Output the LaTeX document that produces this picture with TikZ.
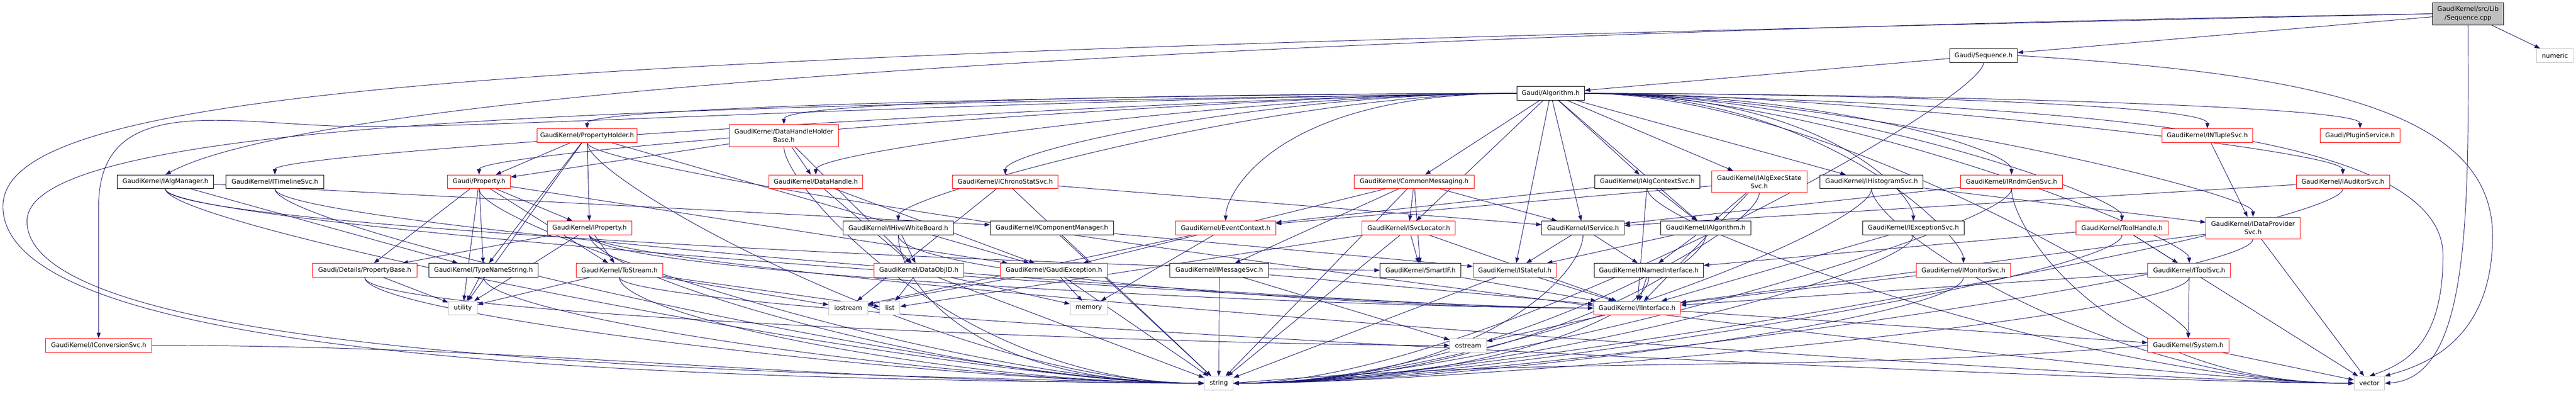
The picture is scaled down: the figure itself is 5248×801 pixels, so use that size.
\documentclass[tikz,border=0pt]{standalone}
\usepackage{fontspec}
\setmainfont{DejaVu Sans}
\usetikzlibrary{arrows.meta,backgrounds}
\definecolor{incblue}{HTML}{191970}
\definecolor{truncred}{HTML}{FF0000}
\definecolor{extgray}{HTML}{BFBFBF}

\begin{document}
\begin{tikzpicture}[x=1pt,y=1pt,
    hdr/.style={draw=black, fill=white, line width=1pt, inner sep=0pt,
      minimum height=28pt, align=center, font=\fontsize{12.9}{17}\selectfont},
    trunc/.style={hdr, draw=truncred},
    ext/.style={hdr, draw=extgray},
    src/.style={hdr, fill=extgray},
    inc/.style={draw=incblue, line width=1pt, -{Triangle[length=11pt,width=8pt]}}]
        \useasboundingbox (0,0) rectangle (5248,-801);

        % source file
        \node[src, minimum width=145pt, minimum height=45pt] (seqcpp) at (5028,-28) {GaudiKernel/src/Lib\\/Sequence.cpp};
        \node[hdr, minimum width=138pt] (seqh) at (4041,-113) {Gaudi/Sequence.h};
        \node[ext, minimum width=74pt] (numeric) at (5205,-113) {numeric};
        \node[hdr, minimum width=138pt] (alg) at (3159,-190) {Gaudi/Algorithm.h};

        % first row of headers
        \node[trunc, minimum width=203pt] (propholder) at (1196,-276) {GaudiKernel/PropertyHolder.h};
        \node[trunc, minimum width=223pt, minimum height=45pt] (dhhb) at (1597,-276) {GaudiKernel/DataHandleHolder\\Base.h};
        \node[trunc, minimum width=185pt] (ntuple) at (4497,-276) {GaudiKernel/INTupleSvc.h};
        \node[trunc, minimum width=162pt] (plugin) at (4808,-276) {Gaudi/PluginService.h};

        % second row
        \node[hdr, minimum width=196pt] (algmgr) at (337,-370) {GaudiKernel/IAlgManager.h};
        \node[hdr, minimum width=199pt] (timeline) at (560,-370) {GaudiKernel/ITimelineSvc.h};
        \node[trunc, minimum width=128pt] (prop) at (976,-370) {Gaudi/Property.h};
        \node[trunc, minimum width=192pt] (dhandle) at (1662,-370) {GaudiKernel/DataHandle.h};
        \node[trunc, minimum width=215pt] (chrono) at (2048,-370) {GaudiKernel/IChronoStatSvc.h};
        \node[trunc, minimum width=244pt] (commsg) at (2881,-370) {GaudiKernel/CommonMessaging.h};
        \node[hdr, minimum width=214pt] (algctx) at (3356,-370) {GaudiKernel/IAlgContextSvc.h};
        \node[trunc, minimum width=194pt, minimum height=44pt] (execst) at (3584,-370) {GaudiKernel/IAlgExecState\\Svc.h};
        \node[hdr, minimum width=210pt] (histo) at (3813,-370) {GaudiKernel/IHistogramSvc.h};
        \node[trunc, minimum width=208pt] (rndm) at (4098,-370) {GaudiKernel/IRndmGenSvc.h};
        \node[trunc, minimum width=190pt] (auditor) at (4773,-370) {GaudiKernel/IAuditorSvc.h};

        % third row
        \node[trunc, minimum width=172pt] (iprop) at (1201,-464) {GaudiKernel/IProperty.h};
        \node[hdr, minimum width=225pt] (hive) at (1830,-464) {GaudiKernel/IHiveWhiteBoard.h};
        \node[hdr, minimum width=251pt] (compmgr) at (2143,-464) {GaudiKernel/IComponentManager.h};
        \node[trunc, minimum width=204pt] (evctx) at (2497,-464) {GaudiKernel/EventContext.h};
        \node[trunc, minimum width=190pt] (svcloc) at (2870,-464) {GaudiKernel/ISvcLocator.h};
        \node[hdr, minimum width=168pt] (iservice) at (3225,-464) {GaudiKernel/IService.h};
        \node[hdr, minimum width=183pt] (ialg) at (3475,-464) {GaudiKernel/IAlgorithm.h};
        \node[hdr, minimum width=207pt] (excsvc) at (3898,-464) {GaudiKernel/IExceptionSvc.h};
        \node[trunc, minimum width=188pt] (toolh) at (4323,-464) {GaudiKernel/ToolHandle.h};
        \node[trunc, minimum width=192pt, minimum height=44pt] (dps) at (4590,-464) {GaudiKernel/IDataProvider\\Svc.h};

        % fourth row
        \node[trunc, minimum width=213pt] (propbase) at (743,-550) {Gaudi/Details/PropertyBase.h};
        \node[hdr, minimum width=223pt] (tns) at (985,-550) {GaudiKernel/TypeNameString.h};
        \node[trunc, minimum width=177pt] (tostream) at (1262,-550) {GaudiKernel/ToStream.h};
        \node[trunc, minimum width=182pt] (dataobjid) at (1872,-550) {GaudiKernel/DataObjID.h};
        \node[trunc, minimum width=218pt] (gexc) at (2147,-550) {GaudiKernel/GaudiException.h};
        \node[hdr, minimum width=202pt] (msgsvc) at (2484,-550) {GaudiKernel/IMessageSvc.h};
        \node[hdr, minimum width=165pt] (smartif) at (2894,-550) {GaudiKernel/SmartIF.h};
        \node[trunc, minimum width=170pt] (istateful) at (3086,-550) {GaudiKernel/IStateful.h};
        \node[hdr, minimum width=223pt] (inamed) at (3359,-550) {GaudiKernel/INamedInterface.h};
        \node[trunc, minimum width=193pt] (monitor) at (4000,-550) {GaudiKernel/IMonitorSvc.h};
        \node[trunc, minimum width=169pt] (toolsvc) at (4460,-550) {GaudiKernel/IToolSvc.h};

        % fifth row
        \node[ext, minimum width=59pt] (utility) at (943,-627) {utility};
        \node[ext, minimum width=79pt] (iostream) at (1728,-627) {iostream};
        \node[ext, minimum width=41pt] (list) at (1813,-627) {list};
        \node[ext, minimum width=76pt] (memory) at (2218,-627) {memory};
        \node[trunc, minimum width=177pt] (iinterface) at (3335,-627) {GaudiKernel/IInterface.h};

        % sixth row
        \node[trunc, minimum width=216pt] (convsvc) at (201,-703) {GaudiKernel/IConversionSvc.h};
        \node[ext, minimum width=75pt] (ostream) at (2991,-703) {ostream};
        \node[trunc, minimum width=165pt] (system) at (4458,-703) {GaudiKernel/System.h};

        % bottom row
        \node[ext, minimum width=59pt] (string) at (2483,-780) {string};
        \node[ext, minimum width=62pt] (vector) at (4827,-780) {vector};

        \begin{pgfonlayer}{background}
        \fill[white] (0,0) rectangle (5248,-801);

        % Sequence.cpp
        \draw[inc] (seqcpp) -- (seqh);
        \draw[inc] (seqcpp) -- (numeric);
        \draw[inc] (seqcpp.west) .. controls (3000,-60) and (700,-160) .. (algmgr.north);
        \draw[inc] (seqcpp.west) .. controls (1200,-110) and (6,-160) .. (6,-420) .. controls (6,-740) and (1400,-772) .. (string.west);
        \draw[inc] (seqcpp.south) .. controls (5030,-450) and (5030,-770) .. (vector.east);

        % Sequence.h
        \draw[inc] (seqh) -- (alg);
        \draw[inc] (seqh.south) .. controls +(0,-80) and +(500,0) .. (string.east);
        \draw[inc] (seqh.east) .. controls (4700,-150) and (5078,-220) .. (5078,-480) .. controls (5078,-700) and (4930,-745) .. (vector.north east);

        % Algorithm.h
        \draw[inc] (alg.west) .. controls +(-500,0) and +(0,50) .. (propholder.north);
        \draw[inc] (alg.west) .. controls +(-500,0) and +(0,50) .. (dhhb.north);
        \draw[inc] (alg.west) .. controls +(-500,0) and +(0,50) .. (timeline.north);
        \draw[inc] (alg.west) .. controls +(-500,0) and +(0,50) .. (prop.north);
        \draw[inc] (alg.west) .. controls +(-500,0) and +(0,50) .. (dhandle.north);
        \draw[inc] (alg.west) .. controls +(-500,0) and +(0,50) .. (chrono.north);
        \draw[inc] (alg.west) .. controls +(-500,0) and +(0,50) .. (hive.north);
        \draw[inc] (alg.west) .. controls +(-500,0) and +(0,50) .. (evctx.north);
        \draw[inc] (alg) -- (commsg);
        \draw[inc] (alg) -- (svcloc);
        \draw[inc] (alg) -- (iservice);
        \draw[inc] (alg) -- (ialg);
        \draw[inc] (alg) -- (algctx);
        \draw[inc] (alg) -- (execst);
        \draw[inc] (alg) -- (histo);
        \draw[inc] (alg) -- (istateful);
        \draw[inc] (alg.east) .. controls +(500,0) and +(0,50) .. (ntuple.north);
        \draw[inc] (alg.east) .. controls +(500,0) and +(0,50) .. (plugin.north);
        \draw[inc] (alg.east) .. controls +(500,0) and +(0,50) .. (rndm.north);
        \draw[inc] (alg.east) .. controls +(500,0) and +(0,50) .. (auditor.north);
        \draw[inc] (alg.east) .. controls +(500,0) and +(0,50) .. (excsvc.north);
        \draw[inc] (alg.east) .. controls +(500,0) and +(0,50) .. (toolh.north);
        \draw[inc] (alg.east) .. controls +(500,0) and +(0,50) .. (dps.north);
        \draw[inc] (alg.east) .. controls +(500,0) and +(0,50) .. (monitor.north);
        \draw[inc] (alg.east) .. controls +(500,0) and +(0,50) .. (toolsvc.north);
        \draw[inc] (alg.east) .. controls +(500,0) and +(0,50) .. (system.north);
        \draw[inc] (alg.west) .. controls (1900,-205) and (950,-265) .. (700,-257) .. controls (450,-250) and (201,-190) .. (201,-420) -- (convsvc.north);
        \draw[inc] (alg.west) .. controls (1500,-215) and (55,-230) .. (55,-450) .. controls (55,-720) and (1400,-760) .. (string.west);
        \draw[inc] (alg.east) .. controls (4200,-215) and (4977,-260) .. (4977,-520) .. controls (4977,-700) and (4900,-740) .. (vector.north);

        % PropertyHolder.h
        \draw[inc] (propholder) -- (prop);
        \draw[inc] (propholder) -- (iprop);
        \draw[inc] (propholder) -- (gexc);
        \draw[inc] (propholder) -- (utility);
        \draw[inc] (propholder) -- (tns);
        \draw[inc] (propholder.south) .. controls +(0,-80) and +(-500,0) .. (string.west);
        \draw[inc] (propholder.south) .. controls +(0,-80) and +(-500,0) .. (vector.west);

        % Gaudi/Property.h
        \draw[inc] (prop) -- (propbase);
        \draw[inc] (prop) -- (iprop);
        \draw[inc] (prop) -- (tns);
        \draw[inc] (prop) -- (utility);
        \draw[inc] (prop) -- (gexc);
        \draw[inc] (prop) -- (tostream);
        \draw[inc] (prop.south) .. controls +(0,-80) and +(-500,0) .. (string.west);

        % DataHandleHolderBase.h, DataHandle.h
        \draw[inc] (dhhb) -- (prop);
        \draw[inc] (dhhb) -- (dhandle);
        \draw[inc] (dhhb) -- (dataobjid);
        \draw[inc] (dhhb.south) .. controls +(0,-80) and +(-500,0) .. (string.west);
        \draw[inc] (dhandle) -- (dataobjid);
        \draw[inc] (dhandle) -- (gexc);

        % IAlgManager.h, ITimelineSvc.h
        \draw[inc] (algmgr) -- (compmgr);
        \draw[inc] (algmgr) -- (tns);
        \draw[inc] (algmgr.south) .. controls +(0,-80) and +(-500,0) .. (smartif.west);
        \draw[inc] (algmgr.south) .. controls +(0,-80) and +(-500,0) .. (iinterface.west);
        \draw[inc] (algmgr.south) .. controls +(0,-80) and +(-500,0) .. (string.west);
        \draw[inc] (timeline.south) .. controls +(0,-80) and +(-500,0) .. (iinterface.west);
        \draw[inc] (timeline.south) .. controls +(0,-80) and +(-500,0) .. (string.west);

        % IChronoStatSvc.h, CommonMessaging.h
        \draw[inc] (chrono) -- (iservice);
        \draw[inc] (chrono) -- (string);
        \draw[inc] (chrono) -- (iostream);
        \draw[inc] (commsg) -- (svcloc);
        \draw[inc] (commsg) -- (iservice);
        \draw[inc] (commsg) -- (msgsvc);
        \draw[inc] (commsg) -- (smartif);
        \draw[inc] (commsg) -- (gexc);
        \draw[inc] (commsg) -- (string);

        % IAlgContextSvc.h, IAlgExecStateSvc.h
        \draw[inc] (algctx) -- (evctx);
        \draw[inc] (algctx) -- (ialg);
        \draw[inc] (algctx) -- (iinterface);
        \draw[inc] (algctx.south) .. controls +(0,-80) and +(-500,0) .. (vector.west);
        \draw[inc] (execst) -- (ialg);
        \draw[inc] (execst) -- (evctx);
        \draw[inc] (execst) -- (iinterface);
        \draw[inc] (execst.south) .. controls +(0,-80) and +(500,0) .. (string.east);

        % IHistogramSvc.h, IRndmGenSvc.h, IAuditorSvc.h, INTupleSvc.h
        \draw[inc] (histo) -- (dps);
        \draw[inc] (histo.south) .. controls +(0,-80) and +(500,0) .. (string.east);
        \draw[inc] (histo.south) .. controls +(0,-80) and +(-500,0) .. (vector.west);
        \draw[inc] (rndm) -- (iservice);
        \draw[inc] (rndm.south) .. controls +(0,-80) and +(500,0) .. (string.east);
        \draw[inc] (rndm.south) .. controls +(0,-80) and +(-500,0) .. (vector.west);
        \draw[inc] (auditor) -- (iservice);
        \draw[inc] (auditor.south) .. controls +(0,-80) and +(500,0) .. (string.east);
        \draw[inc] (ntuple) -- (dps);

        % IProperty.h, IHiveWhiteBoard.h, IComponentManager.h, EventContext.h
        \draw[inc] (iprop) -- (propbase);
        \draw[inc] (iprop) -- (tostream);
        \draw[inc] (iprop) -- (utility);
        \draw[inc] (iprop.south) .. controls +(0,-80) and +(-500,0) .. (iinterface.west);
        \draw[inc] (iprop.south) .. controls +(0,-80) and +(-500,0) .. (string.west);
        \draw[inc] (iprop.south) .. controls +(0,-80) and +(-500,0) .. (vector.west);
        \draw[inc] (hive) -- (dataobjid);
        \draw[inc] (hive.south) .. controls +(0,-80) and +(-500,0) .. (iinterface.west);
        \draw[inc] (hive.south) .. controls +(0,-80) and +(-500,0) .. (string.west);
        \draw[inc] (compmgr) -- (istateful);
        \draw[inc] (compmgr) -- (string);
        \draw[inc] (evctx) -- (iostream);
        \draw[inc] (evctx) -- (memory);

        % ISvcLocator.h, IService.h, IAlgorithm.h
        \draw[inc] (svcloc) -- (smartif);
        \draw[inc] (svcloc) -- (iinterface);
        \draw[inc] (svcloc) -- (string);
        \draw[inc] (svcloc) -- (list);
        \draw[inc] (iservice) -- (istateful);
        \draw[inc] (iservice) -- (inamed);
        \draw[inc] (iservice.south) .. controls +(0,-80) and +(500,0) .. (string.east);
        \draw[inc] (ialg) -- (istateful);
        \draw[inc] (ialg) -- (inamed);
        \draw[inc] (ialg.south) .. controls +(0,-80) and +(500,0) .. (string.east);

        % IExceptionSvc.h, ToolHandle.h, IDataProviderSvc.h
        \draw[inc] (excsvc) -- (iinterface);
        \draw[inc] (excsvc.south) .. controls +(0,-80) and +(500,0) .. (string.east);
        \draw[inc] (toolh) -- (toolsvc);
        \draw[inc] (toolh) -- (inamed);
        \draw[inc] (toolh) -- (vector);
        \draw[inc] (toolh.south) .. controls +(0,-80) and +(500,0) .. (string.east);
        \draw[inc] (dps) -- (iinterface);
        \draw[inc] (dps) -- (vector);
        \draw[inc] (dps.south) .. controls +(0,-80) and +(500,0) .. (string.east);

        % PropertyBase.h, TypeNameString.h, ToStream.h
        \draw[inc] (propbase) -- (utility);
        \draw[inc] (propbase.south) .. controls +(0,-80) and +(-500,0) .. (ostream.west);
        \draw[inc] (propbase.south) .. controls +(0,-80) and +(-500,0) .. (string.west);
        \draw[inc] (tns) -- (utility);
        \draw[inc] (tns.south) .. controls +(0,-80) and +(-500,0) .. (string.west);
        \draw[inc] (tostream) -- (utility);
        \draw[inc] (tostream) -- (iostream);
        \draw[inc] (tostream) -- (list);
        \draw[inc] (tostream.south) .. controls +(0,-80) and +(-500,0) .. (string.west);
        \draw[inc] (tostream.south) .. controls +(0,-80) and +(-500,0) .. (vector.west);

        % DataObjID.h, GaudiException.h, IMessageSvc.h
        \draw[inc] (dataobjid) -- (list);
        \draw[inc] (dataobjid) -- (memory);
        \draw[inc] (dataobjid) -- (string);
        \draw[inc] (gexc) -- (memory);
        \draw[inc] (gexc) -- (string);
        \draw[inc] (gexc) -- (iostream);
        \draw[inc] (msgsvc) -- (string);
        \draw[inc] (msgsvc) -- (iinterface);
        \draw[inc] (msgsvc) -- (ostream);

        % SmartIF.h, IStateful.h, INamedInterface.h
        \draw[inc] (smartif) -- (iinterface);
        \draw[inc] (istateful) -- (iinterface);
        \draw[inc] (istateful) -- (string);
        \draw[inc] (inamed) -- (iinterface);
        \draw[inc] (inamed.south) .. controls +(0,-80) and +(500,0) .. (string.east);

        % IMonitorSvc.h, IToolSvc.h
        \draw[inc] (monitor) -- (iinterface);
        \draw[inc] (monitor.south) .. controls +(0,-80) and +(500,0) .. (string.east);
        \draw[inc] (toolsvc) -- (system);
        \draw[inc] (toolsvc) -- (iinterface);
        \draw[inc] (toolsvc.south) .. controls +(0,-80) and +(500,0) .. (string.east);

        % IInterface.h, System.h, IConversionSvc.h
        \draw[inc] (iinterface) -- (ostream);
        \draw[inc] (iinterface) -- (system);
        \draw[inc] (system) -- (vector);
        \draw[inc] (system.west) .. controls +(-700,-60) and +(700,60) .. (string.east);
        \draw[inc] (convsvc.east) .. controls +(800,0) and +(-800,0) .. (string.west);
        \end{pgfonlayer}
    \end{tikzpicture}
\end{document}
